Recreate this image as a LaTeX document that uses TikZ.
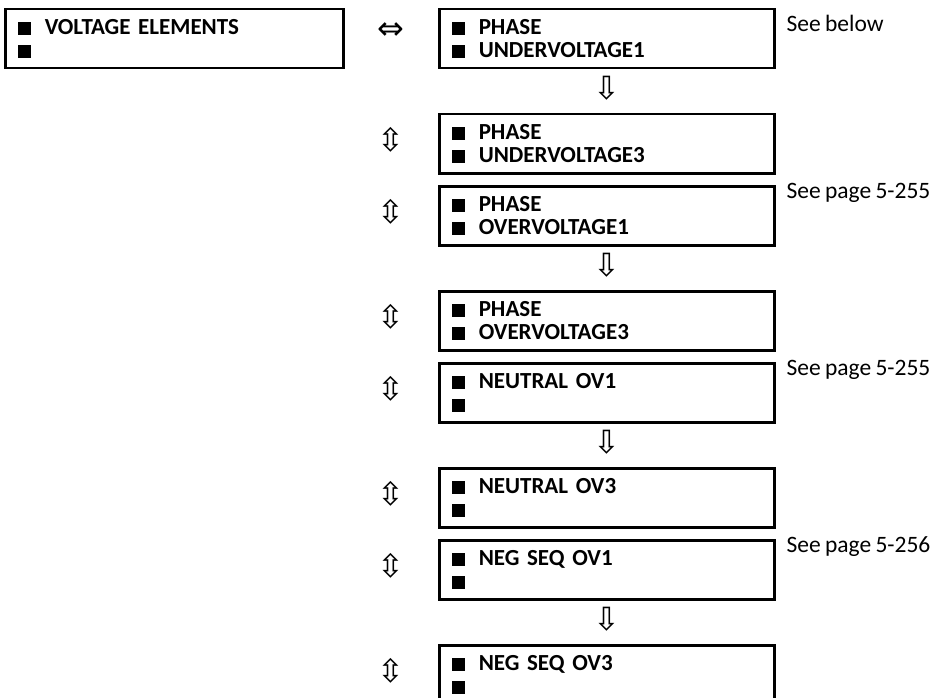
\documentclass[tikz,border=0pt]{standalone}
\usepackage{fontspec}
\setmainfont[WordSpace=0.8]{Carlito}
\newfontfamily\arrowfont{DejaVu Sans}
\usetikzlibrary{positioning, calc}

\newcommand{\sqbul}{\rule{12.5pt}{12.5pt}\hspace{14pt}}

\begin{document}
\begin{tikzpicture}[
    x=1pt, y=-1pt,
    node distance=43.5pt,
    menubox/.style={rectangle, draw=black, line width=2.5pt, minimum height=59pt, text width=309pt, inner xsep=13pt, inner ysep=0pt, align=left, font=\fontsize{23}{23}\selectfont\bfseries},
    seenote/.style={anchor=base west, inner sep=0pt, font=\fontsize{23.5}{24}\selectfont},
    navarrow/.style={inner sep=0pt, font=\arrowfont\fontsize{32}{32}\selectfont}
]
\clip (0,0) rectangle (934,698);

% Nodes
\node[menubox, text width=312pt, anchor=north west] (volt) at (4,8) {\sqbul VOLTAGE ELEMENTS \\ \sqbul};
\node[menubox, anchor=north west] (pu1) at (438,8) {\sqbul PHASE \\ \sqbul UNDERVOLTAGE1};
\node[menubox, below=of pu1] (pu3) {\sqbul PHASE \\ \sqbul UNDERVOLTAGE3};
\node[menubox, below=10.5pt of pu3] (po1) {\sqbul PHASE \\ \sqbul OVERVOLTAGE1};
\node[menubox, below=of po1] (po3) {\sqbul PHASE \\ \sqbul OVERVOLTAGE3};
\node[menubox, below=10.5pt of po3] (nov1) {\sqbul NEUTRAL OV1 \\ \sqbul};
\node[menubox, below=of nov1] (nov3) {\sqbul NEUTRAL OV3 \\ \sqbul};
\node[menubox, below=10.5pt of nov3] (nsov1) {\sqbul NEG SEQ OV1 \\ \sqbul};
\node[menubox, below=of nsov1] (nsov3) {\sqbul NEG SEQ OV3 \\ \sqbul};

% Notes
\node[seenote] (see1) at ([xshift=11pt, yshift=-24pt]pu1.north east) {See below};
\node[seenote] (see2) at ([xshift=11pt, yshift=-13pt]po1.north east) {See page 5-255};
\node[seenote] (see3) at ([xshift=11pt, yshift=-13pt]nov1.north east) {See page 5-255};
\node[seenote] (see4) at ([xshift=11pt, yshift=-13pt]nsov1.north east) {See page 5-256};

% Arrows
\node[navarrow] (lr) at ($(volt.east)!0.5!(pu1.west)+(0,-8)$) {⇔};
\node[navarrow] (dn1) at ($(pu1.south)!0.5!(pu3.north)+(0,-3)$) {⇩};
\node[navarrow] (dn2) at ($(po1.south)!0.5!(po3.north)+(0,-3)$) {⇩};
\node[navarrow] (dn3) at ($(nov1.south)!0.5!(nov3.north)+(0,-3)$) {⇩};
\node[navarrow] (dn4) at ($(nsov1.south)!0.5!(nsov3.north)+(0,-3)$) {⇩};
\foreach \b in {pu3, po1, po3, nov1, nov3, nsov1, nsov3}
    \node[navarrow] (ud-\b) at ($(lr.center |- \b.center)+(0,-4)$) {⇳};

\end{tikzpicture}
\end{document}
